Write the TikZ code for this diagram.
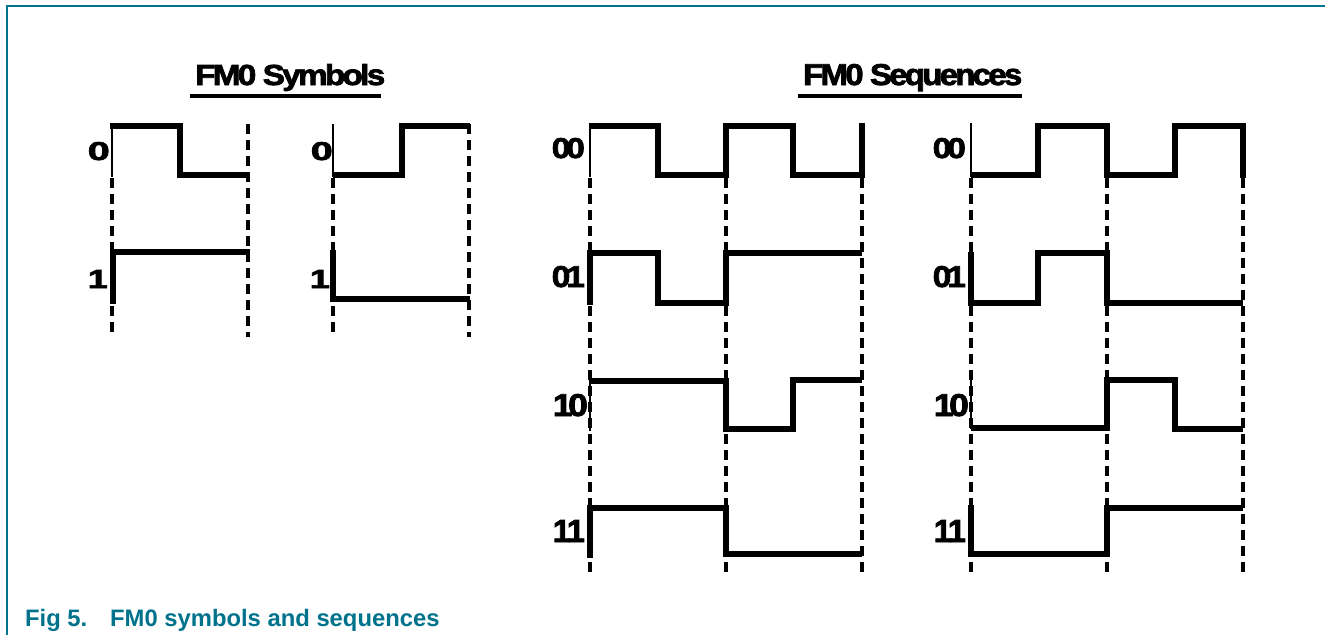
\documentclass[tikz,border=0pt]{standalone}
\usepackage{fontspec}
\setmainfont{Liberation Sans}
\newfontfamily\heavyfont[FakeBold=2.5]{Liberation Sans Bold}
\usepackage{graphicx}
\definecolor{nxpteal}{RGB}{0,114,140}
\begin{document}
\begin{tikzpicture}[x=1pt,y=-1pt,
  wave/.style={line width=5.5pt, line join=miter},
  thinedge/.style={line width=2.6pt},
  grid/.style={line width=3.4pt, dash pattern=on 10pt off 6pt},
  lab/.style={inner sep=0pt, anchor=base east, font=\heavyfont},
  ttl/.style={inner sep=0pt, anchor=base west, font=\heavyfont},
  uline/.style={line width=3.6pt},
  captxt/.style={inner sep=0pt, anchor=base west, text=nxpteal, font=\fontsize{23.8}{26}\selectfont\bfseries}]
\useasboundingbox (0,0) rectangle (1325,635);
% frame
\draw[nxpteal, line width=1.5pt] (7,635) -- (7,6) -- (1325,6);
% titles
\node[ttl] (t1) at (195,85) {\resizebox{190pt}{21pt}{\addfontfeature{LetterSpace=-8}FM0 Symbols}};
\draw[uline] (190,96) -- (381,96);
\node[ttl] (t2) at (803,85) {\resizebox{219pt}{21pt}{\addfontfeature{LetterSpace=-8}FM0 Sequences}};
\draw[uline] (798,96) -- (1022,96);
% caption
\node[captxt] (c1) at (25,626) {Fig 5.};
\node[captxt] (c2) at (110,626) {FM0 symbols and sequences};
% ---------- symbols, dashed guides
\draw[grid] (112,178) -- (112,337);
\draw[grid] (248,124) -- (248,337);
\draw[grid] (333,178) -- (333,337);
\draw[grid] (469,124) -- (469,337);
% symbol labels
\node[lab] (s0a) at (110,160) {\resizebox{22pt}{18pt}{0}};
\node[lab] (s1a) at (108,288) {\resizebox{20pt}{18pt}{1}};
\node[lab] (s0b) at (333,160) {\resizebox{22pt}{18pt}{0}};
\node[lab] (s1b) at (330,288) {\resizebox{20pt}{18pt}{1}};
% symbol waveforms
\draw[thinedge] (112,124) -- (112,177);
\draw[wave] (110,126) -- (180,126) -- (180,175) -- (249,175);
\draw[wave] (113,304) -- (113,252) -- (250,252);
\draw[thinedge] (333,124) -- (333,177);
\draw[wave] (333,175) -- (402,175) -- (402,126) -- (470,126);
\draw[wave] (333,250) -- (333,299) -- (470,299);
% ---------- sequences, dashed guides
\foreach \gx in {590,726,862,971,1107,1243}
  \draw[grid] (\gx,178) -- (\gx,578);
% sequence labels
\foreach \ox in {0,381}{
  \node[lab] at (585+\ox,158) {\resizebox{33pt}{20pt}{0\kern-0.12em0}};
  \node[lab] at (585+\ox,287) {\resizebox{33pt}{21pt}{0\kern-0.12em1}};
  \node[lab] at (588+\ox,416) {\resizebox{35pt}{22pt}{1\kern-0.12em0}};
  \node[lab] at (585+\ox,542) {\resizebox{32pt}{22pt}{1\kern-0.12em1}};
}
% left column waveforms
\draw[thinedge] (590,124) -- (590,177);
\draw[wave] (589,126) -- (658,126) -- (658,175) -- (726,175) -- (726,126) -- (793,126) -- (793,175) -- (862,175) -- (862,123);
\draw[wave] (590,305) -- (590,253) -- (658,253) -- (658,303) -- (726,303) -- (726,253) -- (862,253);
\draw[thinedge] (590,378) -- (590,431);
\draw[wave] (589,381) -- (726,381) -- (726,429) -- (793,429) -- (793,380) -- (862,380);
\draw[wave] (590,558) -- (590,508) -- (726,508) -- (726,554) -- (862,554);
% right column waveforms
\draw[thinedge] (971,123) -- (971,177);
\draw[wave] (971,175) -- (1038,175) -- (1038,126) -- (1107,126) -- (1107,175) -- (1175,175) -- (1175,126) -- (1243,126) -- (1243,178);
\draw[wave] (971,252) -- (971,303) -- (1038,303) -- (1038,253) -- (1107,253) -- (1107,303) -- (1243,303);
\draw[thinedge] (971,377) -- (971,429);
\draw[wave] (971,428) -- (1107,428) -- (1107,380) -- (1175,380) -- (1175,429) -- (1243,429);
\draw[wave] (971,505) -- (971,554) -- (1107,554) -- (1107,508) -- (1243,508);
\end{tikzpicture}
\end{document}
